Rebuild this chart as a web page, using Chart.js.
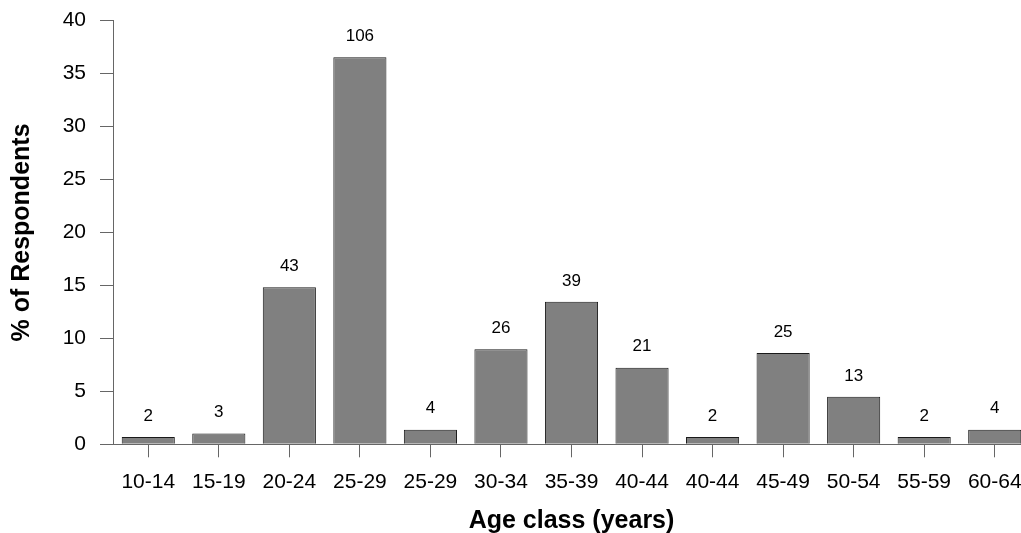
<!DOCTYPE html>
<html>
<head>
<meta charset="utf-8">
<script src="https://cdn.jsdelivr.net/npm/chart.js@4/dist/chart.umd.min.js"></script>
<style>
  html, body { margin:0; padding:0; background:#fff; overflow:hidden; }
  #wrap { width:1021px; height:533px; overflow:hidden; }
</style>
</head>
<body>
<div id="wrap"><canvas id="chart" width="1030" height="533"></canvas></div>
<script>
const ageClasses = ["10-14","15-19","20-24","25-29","25-29","30-34","35-39","40-44","40-44","45-49","50-54","55-59","60-64"]
const percentValues = [0.69, 1.03, 14.83, 36.55, 1.38, 8.97, 13.45, 7.24, 0.69, 8.62, 4.48, 0.69, 1.38]
const counts = [2, 3, 43, 106, 4, 26, 39, 21, 2, 25, 13, 2, 4]
const yTicks = [0, 5, 10, 15, 20, 25, 30, 35, 40]

const FONT = "'Liberation Sans', Arial, sans-serif"
const AXIS = "#666666"

// counts written above each bar
const countLabels = {
  id:"countLabels",
  afterDatasetsDraw(chart){
    const ctx = chart.ctx
    const meta = chart.getDatasetMeta(0)
    ctx.save()
    ctx.font = "17px " + FONT
    ctx.fillStyle = "#000"
    ctx.textAlign = "center"
    ctx.textBaseline = "middle"
    meta.data.forEach((bar, i) => {
      ctx.fillText(String(counts[i]), bar.x, bar.y - 21)
    })
    ctx.restore()
  }
}

new Chart(document.getElementById("chart"), {
  type:"bar",
  data:{
    labels:ageClasses,
    datasets:[{
      data:percentValues,
      backgroundColor:"#808080",
      borderColor:"#1a1a1a",
      borderWidth:1,
      categoryPercentage:1,
      barPercentage:0.753
    }]
  },
  options:{
    responsive:false,
    animation:false,
    layout:{ padding:{ top:20.7, right:0, left:0, bottom:0 } },
    plugins:{
      legend:{ display:false },
      tooltip:{ enabled:false }
    },
    scales:{
      x:{
        offset:true,
        afterFit(scale){
          scale.height = 88.7
          scale.paddingLeft = 0
          scale.paddingRight = 0
        },
        grid:{
          offset:false,
          drawOnChartArea:false,
          drawTicks:true,
          tickLength:13,
          color:AXIS
        },
        border:{ display:true, color:AXIS, width:1 },
        ticks:{
          color:"#000",
          padding:12,
          maxRotation:0,
          autoSkip:false,
          font:{ family:FONT, size:21 }
        },
        title:{
          display:true,
          text:"Age class (years)",
          color:"#000",
          padding:{ top:0, bottom:-3 },
          font:{ family:FONT, size:25, weight:"bold" }
        }
      },
      y:{
        min:0,
        max:40,
        afterFit(scale){
          scale.width = 113
          scale.paddingTop = 0
          scale.paddingBottom = 0
        },
        afterBuildTicks(scale){ scale.ticks = yTicks.map(v => ({ value:v })) },
        grid:{
          drawOnChartArea:false,
          drawTicks:true,
          tickLength:13,
          color:AXIS
        },
        border:{ display:true, color:AXIS, width:1 },
        ticks:{
          color:"#000",
          padding:14,
          font:{ family:FONT, size:21 }
        },
        title:{
          display:true,
          text:"% of Respondents",
          color:"#000",
          padding:{ top:7, bottom:0 },
          font:{ family:FONT, size:25, weight:"bold" }
        }
      }
    }
  },
  plugins:[countLabels]
})
</script>
</body>
</html>
